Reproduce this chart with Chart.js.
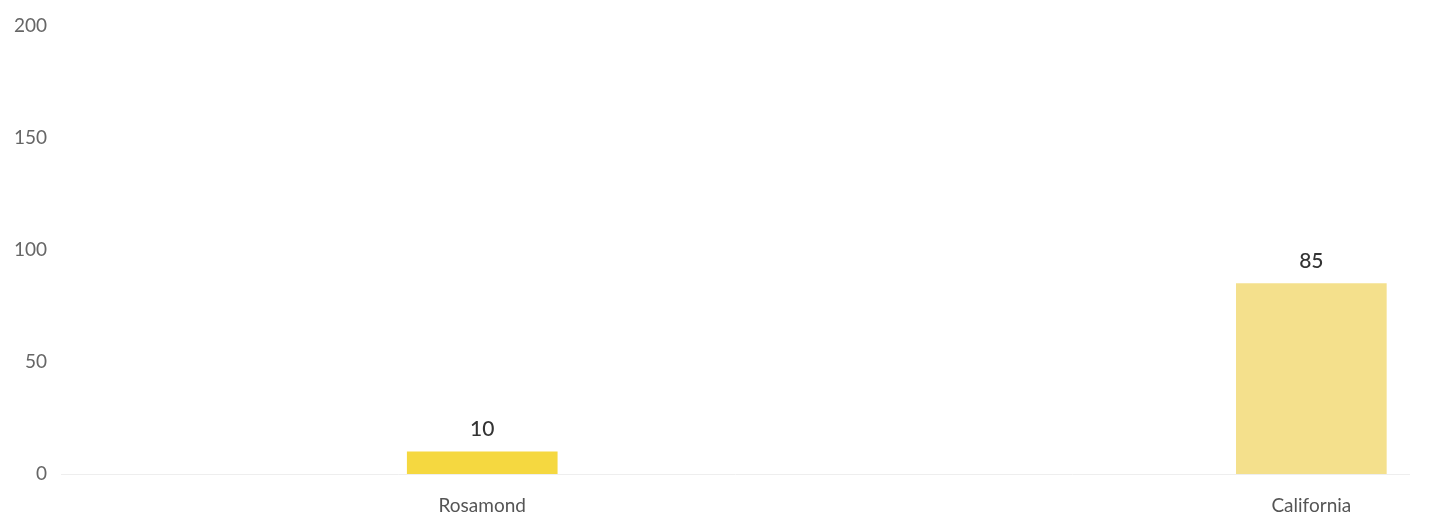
<!DOCTYPE html>
<html>
<head>
<meta charset="utf-8">
<script src="https://cdn.jsdelivr.net/npm/chart.js@4/dist/chart.umd.min.js"></script>
<style>
  html, body { margin: 0; padding: 0; background: #fff; }
  #wrap { width: 1447px; height: 519px; }
</style>
</head>
<body>
<div id="wrap"><canvas id="chart"></canvas></div>
<script>
// Chart data
const categories = ['Rosamond', 'California'];
const values = [10, 85];
const barColors = ['#f5d840', '#f4e08c'];
const yTicks = [0, 50, 100, 150, 200];

// Value labels above bars
const valueLabels = {
    id: 'valueLabels',
    afterDatasetsDraw(chart) {
        const ctx = chart.ctx;
        const meta = chart.getDatasetMeta(0);
        ctx.save();
        ctx.font = '500 21px Lato';
        ctx.fillStyle = '#333';
        ctx.textAlign = 'center';
        ctx.textBaseline = 'bottom';
        meta.data.forEach((bar, i) => {
            ctx.fillText(values[i], bar.x, bar.y - 12);
        });
        ctx.restore();
    }
};

function initChart() {
    const ctx = document.getElementById('chart').getContext('2d');
    new Chart(ctx, {
        type: 'bar',
        data: {
            datasets: [{
                data: categories.map((c, i) => ({ x: i + 1, y: values[i] })),
                backgroundColor: barColors,
                borderWidth: 0,
                barThickness: 150
            }]
        },
        options: {
            responsive: true,
            maintainAspectRatio: false,
            animation: false,
            layout: {
                padding: { left: 0, right: 37, top: 6, bottom: -10 }
            },
            plugins: {
                legend: { display: false },
                tooltip: { enabled: false }
            },
            scales: {
                x: {
                    type: 'linear',
                    offset: false,
                    min: 0.492,
                    max: 2.119,
                    grid: { display: false, offset: false },
                    border: { display: false },
                    afterBuildTicks: scale => {
                        scale.ticks = categories.map((c, i) => ({ value: i + 1 }));
                    },
                    ticks: {
                        autoSkip: false,
                        maxRotation: 0,
                        padding: 12,
                        color: '#555',
                        font: { family: 'Lato', size: 19 },
                        callback: v => categories[v - 1]
                    }
                },
                y: {
                    min: 0,
                    max: 200,
                    afterBuildTicks: scale => {
                        scale.ticks = yTicks.map(v => ({ value: v }));
                    },
                    grid: {
                        drawTicks: false,
                        color: c => c.tick && c.tick.value === 0 ? '#eeeeee' : 'rgba(0,0,0,0)'
                    },
                    border: { display: false },
                    ticks: {
                        padding: 14,
                        color: '#666',
                        font: { family: 'Lato', size: 19 }
                    }
                }
            }
        },
        plugins: [valueLabels]
    });
}

document.addEventListener('DOMContentLoaded', initChart);
</script>
</body>
</html>
